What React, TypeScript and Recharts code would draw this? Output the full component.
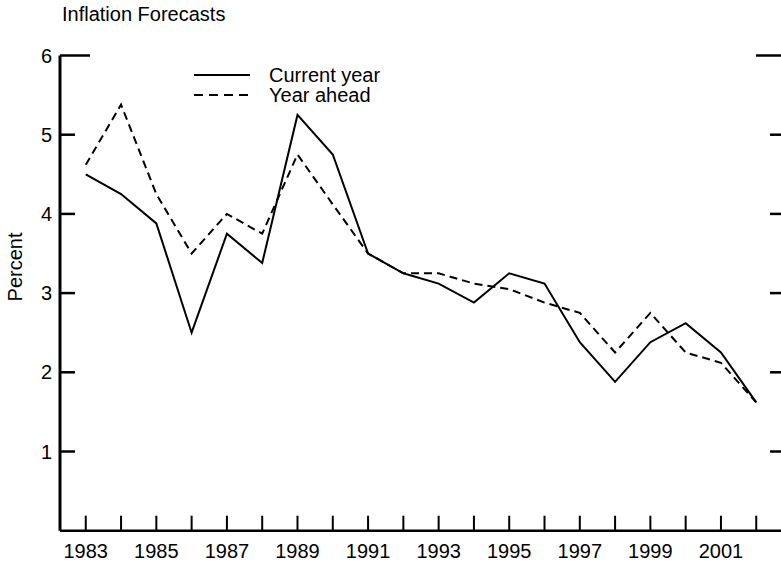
import React from 'react';
import { LineChart, Line, XAxis, YAxis, Legend } from 'recharts';

const years = [1983, 1984, 1985, 1986, 1987, 1988, 1989, 1990, 1991, 1992, 1993, 1994, 1995, 1996, 1997, 1998, 1999, 2000, 2001, 2002];
const currentYear = [4.5, 4.25, 3.88, 2.5, 3.75, 3.38, 5.25, 4.75, 3.5, 3.25, 3.12, 2.88, 3.25, 3.12, 2.38, 1.88, 2.38, 2.62, 2.25, 1.62];
const yearAhead = [4.62, 5.38, 4.25, 3.5, 4.0, 3.75, 4.75, 4.12, 3.5, 3.25, 3.25, 3.12, 3.05, 2.88, 2.75, 2.25, 2.75, 2.25, 2.12, 1.62];
const yTicks = [1, 2, 3, 4, 5, 6];
const labelYears = [1983, 1985, 1987, 1989, 1991, 1993, 1995, 1997, 1999, 2001];

const data = years.map((year, i) => ({ year, current: currentYear[i], ahead: yearAhead[i] }));

const FONT = '"Liberation Sans", Arial, Helvetica, sans-serif';
const FS = 20;

const LeftTick = (props: any) => {
  const { x, y, payload } = props;
  const len = payload.value === 6 ? 30 : 15;
  return (
    <g>
      <line x1={x} x2={x + len} y1={y} y2={y} stroke="#000" strokeWidth={2.5} />
      <text x={x - 8} y={y} dy="0.35em" textAnchor="end" fontFamily={FONT} fontSize={FS} fill="#000">
        {payload.value}
      </text>
    </g>
  );
};

const RightTick = (props: any) => {
  const { x, y, payload } = props;
  const len = payload.value === 6 ? 26 : 12;
  return <line x1={x - len} x2={x} y1={y} y2={y} stroke="#000" strokeWidth={2.5} />;
};

const BottomTick = (props: any) => {
  const { x, y, payload } = props;
  const show = labelYears.includes(payload.value);
  return (
    <g>
      <line x1={x} x2={x} y1={y} y2={y - 15} stroke="#000" strokeWidth={2} />
      {show && (
        <text x={x} y={y + 27} textAnchor="middle" fontFamily={FONT} fontSize={FS} fill="#000">
          {payload.value}
        </text>
      )}
    </g>
  );
};

const PercentLabel = (props: any) => {
  const { viewBox } = props;
  const cy = viewBox.y + viewBox.height * 0.445;
  return (
    <text x={22} y={cy} transform={`rotate(-90, 22, ${cy})`} textAnchor="middle" fontFamily={FONT} fontSize={FS} fill="#000">
      Percent
    </text>
  );
};

const renderLegend = () => (
  <svg width={220} height={44} style={{ display: 'block' }}>
    <line x1={2} x2={58} y1={11} y2={11} stroke="#000" strokeWidth={2} />
    <line x1={2} x2={58} y1={31} y2={31} stroke="#000" strokeWidth={2} strokeDasharray="9 6" />
    <text x={77} y={18} fontFamily={FONT} fontSize={FS} fill="#000">Current year</text>
    <text x={77} y={38} fontFamily={FONT} fontSize={FS} fill="#000">Year ahead</text>
  </svg>
);

export default function App() {
  return (
    <div style={{ position: 'absolute', left: 0, top: 0, width: 781, height: 562, overflow: 'hidden', background: '#fff' }}>
      <div style={{ position: 'absolute', left: 62, top: 4, fontFamily: FONT, fontSize: FS, lineHeight: `${FS}px`, color: '#000' }}>
        Inflation Forecasts
      </div>
      <LineChart width={800} height={562} data={data} margin={{ top: 55.5, right: 17, bottom: 0, left: 0 }}>
        <XAxis
          type="number"
          dataKey="year"
          domain={[1982.27, 2002.73]}
          ticks={years}
          interval={0}
          allowDataOverflow
          height={31.3}
          tickSize={0}
          tickMargin={0}
          tickLine={false}
          axisLine={{ stroke: '#000', strokeWidth: 2.5 }}
          tick={<BottomTick />}
        />
        <YAxis
          yAxisId="left"
          domain={[0, 6]}
          ticks={yTicks}
          interval={0}
          width={60}
          tickSize={0}
          tickMargin={0}
          tickLine={false}
          axisLine={{ stroke: '#000', strokeWidth: 3 }}
          tick={<LeftTick />}
          label={<PercentLabel />}
        />
        <YAxis
          yAxisId="right"
          orientation="right"
          domain={[0, 6]}
          ticks={yTicks}
          interval={0}
          width={1}
          tickSize={0}
          tickMargin={0}
          tickLine={false}
          axisLine={false}
          tick={<RightTick />}
        />
        <Legend
          layout="vertical"
          align="center"
          verticalAlign="middle"
          wrapperStyle={{ left: 192, top: 64, width: 220 }}
          content={renderLegend}
        />
        <Line
          yAxisId="left"
          type="linear"
          dataKey="current"
          stroke="#000"
          strokeWidth={2}
          dot={false}
          isAnimationActive={false}
        />
        <Line
          yAxisId="right"
          type="linear"
          dataKey="ahead"
          stroke="#000"
          strokeWidth={2}
          strokeDasharray="8 5"
          dot={false}
          isAnimationActive={false}
        />
      </LineChart>
    </div>
  );
}
